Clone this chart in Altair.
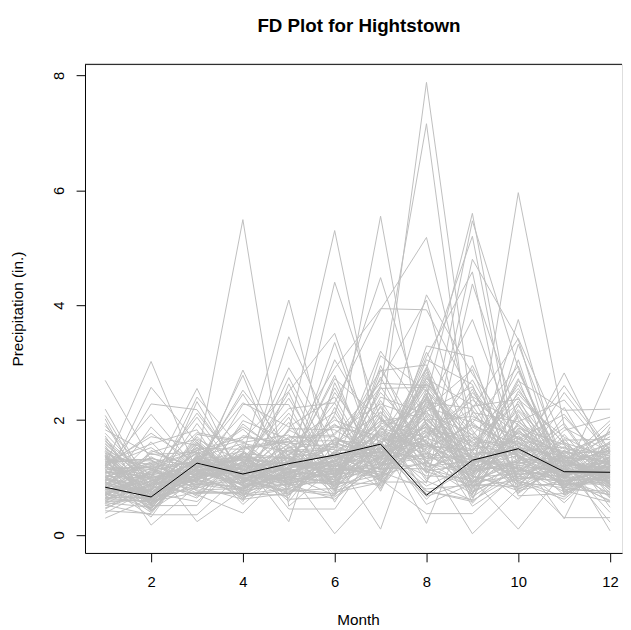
import altair as alt
import pandas as pd

months = list(range(1, 13))

# one value per year-series for each month (inches)
jan = [1.05, 0.82, 1.34, 0.66, 1.12, 0.95, 1.48, 0.74, 1.21, 0.58,
       1.63, 0.91, 1.07, 0.47, 1.29, 0.86, 1.72, 0.63, 1.15, 0.99,
       0.55, 1.38, 0.79, 1.94, 1.02, 1.20, 0.90, 2.69, 2.19, 0.71,
       1.26, 0.84, 1.55, 0.68, 1.11, 0.93, 1.42, 0.52, 1.18, 0.77,
       0.29, 1.36, 0.88, 1.60, 0.64, 1.09, 0.97, 1.83, 0.72, 1.24,
       0.59, 1.45, 0.81, 1.16, 2.02, 0.69, 1.32, 0.92, 0.45, 1.52,
       0.76, 1.01, 1.27, 0.61, 1.68, 0.87, 1.13, 0.38, 1.40, 0.94,
       1.19, 0.73, 1.58, 0.83, 0.99, 1.35, 0.56, 1.08, 1.77, 0.65,
       1.23, 0.89, 1.46, 0.70, 1.14, 0.51, 1.31, 0.96, 1.90, 0.80,
       1.04, 0.62, 1.37, 0.85, 1.17, 0.42, 1.51, 0.75, 1.28, 1.00,
       0.97, 1.43, 0.68, 1.22, 0.88, 1.66, 0.54, 1.09, 1.31, 0.79,
       1.50, 0.92, 1.18, 0.60, 1.39, 0.83, 2.08, 1.02, 0.71, 1.25]
feb = [0.72, 1.10, 0.55, 0.94, 0.41, 1.27, 0.68, 0.85, 1.52, 0.60,
       0.98, 0.47, 1.18, 0.77, 0.63, 1.36, 0.52, 0.89, 1.05, 0.71,
       1.44, 0.58, 0.93, 0.66, 1.21, 3.02, 2.57, 1.30, 0.80, 1.00,
       0.74, 1.62, 0.50, 1.08, 0.86, 0.39, 1.15, 0.35, 0.97, 1.88,
       0.64, 0.17, 1.25, 0.83, 0.57, 1.02, 0.70, 1.40, 0.46, 0.91,
       1.12, 0.62, 0.79, 2.10, 0.53, 0.99, 1.31, 0.67, 0.88, 0.44,
       1.06, 0.75, 1.58, 0.59, 0.96, 0.31, 1.19, 0.81, 0.69, 2.28,
       0.54, 1.03, 0.87, 0.61, 1.34, 0.73, 0.48, 1.14, 0.92, 0.65,
       1.71, 0.56, 0.84, 1.09, 0.42, 0.78, 1.23, 0.68, 1.00, 0.51,
       0.90, 1.47, 0.60, 0.82, 1.17, 0.37, 0.95, 0.76, 1.29, 0.63,
       0.86, 0.49, 1.13, 0.70, 1.42, 0.58, 0.95, 1.24, 0.43, 0.80,
       1.05, 0.66, 1.77, 0.89, 0.52, 1.16, 0.74, 0.99, 0.61, 1.33]
mar = [1.22, 0.95, 1.48, 1.07, 1.31, 0.84, 1.16, 1.62, 0.99, 1.38,
       0.78, 1.25, 1.04, 1.53, 1.30, 0.91, 1.19, 1.42, 0.73, 1.11,
       1.67, 0.88, 1.28, 1.02, 1.45, 1.10, 1.60, 0.97, 1.34, 2.55,
       1.14, 0.81, 1.57, 1.00, 1.21, 1.39, 0.93, 0.35, 1.26, 1.08,
       1.75, 0.86, 0.23, 1.33, 1.17, 2.05, 0.98, 1.44, 1.06, 0.70,
       1.29, 1.51, 0.89, 1.13, 2.32, 1.24, 0.76, 1.36, 1.01, 1.59,
       0.92, 1.18, 1.83, 1.05, 0.64, 1.41, 1.27, 0.96, 1.15, 2.18,
       1.09, 0.83, 1.35, 1.71, 1.03, 0.58, 1.23, 1.47, 0.94, 1.12,
       1.56, 1.00, 0.72, 1.30, 1.20, 1.94, 0.87, 1.37, 1.08, 0.51,
       1.43, 1.16, 0.98, 1.65, 0.80, 1.32, 1.13, 2.40, 0.90, 1.25,
       1.04, 1.36, 0.87, 1.61, 1.19, 0.74, 1.28, 1.50, 0.96, 1.12,
       1.78, 0.82, 1.24, 1.43, 1.01, 0.67, 1.33, 2.12, 1.07, 1.18]
apr = [0.98, 1.25, 0.74, 1.43, 1.06, 0.62, 1.31, 0.89, 1.57, 1.12,
       0.81, 1.38, 1.02, 0.69, 5.49, 1.19, 0.93, 1.66, 1.40, 0.90,
       1.27, 0.77, 1.84, 1.09, 0.58, 1.35, 1.00, 1.51, 0.85, 0.90,
       1.14, 1.73, 0.96, 2.87, 1.22, 0.71, 2.27, 1.08, 1.46, 0.88,
       1.61, 1.03, 0.79, 1.29, 2.52, 0.94, 1.17, 0.66, 1.36, 0.38,
       1.05, 1.49, 0.83, 1.21, 0.97, 2.10, 0.73, 1.32, 1.11, 0.86,
       1.93, 1.01, 0.61, 1.26, 1.44, 0.92, 1.15, 0.78, 2.78, 1.07,
       0.87, 1.34, 1.59, 0.99, 0.68, 1.24, 1.04, 1.70, 0.82, 1.18,
       0.95, 1.41, 0.75, 2.30, 1.13, 0.89, 1.28, 0.53, 1.06, 1.55,
       1.20, 0.80, 1.37, 0.97, 1.99, 0.72, 1.10, 1.47, 0.91, 1.30,
       1.16, 0.84, 1.52, 0.95, 1.33, 0.71, 1.88, 1.06, 1.27, 0.90,
       1.63, 1.00, 2.45, 0.77, 1.20, 1.42, 0.86, 1.11, 0.64, 1.38]
may = [1.18, 0.87, 1.52, 1.04, 1.36, 0.73, 1.25, 1.69, 0.95, 1.41,
       1.10, 0.82, 1.58, 1.29, 0.50, 1.80, 1.00, 2.50, 4.09, 3.45,
       0.91, 1.47, 1.13, 0.78, 1.85, 1.22, 0.99, 1.63, 1.07, 1.34,
       0.84, 1.56, 1.16, 1.20, 1.10, 0.69, 2.27, 1.39, 0.45, 1.02,
       1.74, 0.94, 1.28, 0.23, 1.50, 1.09, 2.91, 0.80, 1.33, 1.19,
       0.97, 1.62, 1.05, 2.12, 0.76, 1.44, 1.24, 0.88, 1.71, 1.01,
       1.31, 0.64, 2.63, 1.15, 0.92, 1.54, 1.08, 1.37, 0.83, 1.96,
       1.23, 0.98, 1.45, 0.71, 1.17, 2.38, 1.03, 1.60, 0.89, 1.27,
       1.48, 0.79, 1.12, 1.88, 0.96, 1.35, 0.58, 1.21, 2.05, 1.06,
       0.90, 1.40, 1.14, 0.74, 1.66, 1.02, 2.74, 0.86, 1.30, 1.11,
       1.27, 0.93, 1.67, 1.05, 2.20, 0.81, 1.39, 1.14, 0.70, 1.52,
       1.00, 1.83, 1.21, 0.88, 2.48, 1.33, 0.96, 1.58, 1.09, 0.62]
jun = [1.26, 0.93, 1.58, 1.12, 0.79, 1.44, 1.07, 1.71, 0.88, 1.35,
       1.30, 2.10, 2.90, 2.30, 1.19, 5.30, 4.40, 3.51, 1.00, 1.70,
       0.97, 1.52, 1.21, 0.68, 1.83, 1.15, 0.92, 1.64, 1.38, 1.03,
       2.48, 0.85, 1.29, 1.09, 0.02, 1.47, 0.76, 1.93, 0.45, 1.24,
       1.11, 1.67, 0.89, 2.65, 1.33, 1.00, 1.56, 0.72, 1.18, 2.06,
       1.42, 0.95, 3.35, 1.14, 0.81, 1.49, 1.27, 0.62, 1.74, 1.05,
       1.36, 2.22, 0.98, 1.61, 1.20, 0.87, 3.05, 1.10, 1.45, 0.77,
       1.23, 1.78, 0.94, 1.34, 2.78, 1.06, 0.69, 1.53, 1.16, 1.91,
       0.90, 1.39, 1.01, 2.40, 1.28, 0.83, 1.59, 1.13, 0.57, 1.43,
       1.08, 2.00, 0.96, 1.31, 0.74, 1.68, 1.22, 2.56, 1.04, 0.86,
       1.19, 1.64, 0.84, 1.37, 2.30, 1.02, 0.71, 1.55, 1.25, 1.88,
       0.93, 1.41, 2.72, 1.13, 0.80, 1.50, 1.07, 2.14, 1.29, 0.66]
jul = [1.90, 2.60, 1.43, 1.18, 1.76, 0.94, 2.05, 1.31, 1.62, 1.09,
       5.55, 4.48, 3.94, 3.92, 1.52, 1.40, 2.00, 1.20, 1.85, 1.27,
       1.50, 2.70, 1.00, 1.67, 1.36, 2.22, 0.88, 1.58, 1.14, 1.95,
       1.41, 2.34, 1.03, 1.72, 0.90, 1.49, 2.86, 1.22, 1.60, 0.97,
       1.81, 1.33, 2.15, 1.07, 0.10, 1.65, 1.25, 3.12, 1.46, 0.82,
       1.98, 1.38, 1.12, 2.48, 1.55, 0.93, 1.79, 1.29, 2.64, 1.16,
       1.45, 0.76, 2.08, 1.35, 3.20, 1.04, 1.70, 1.24, 1.91, 0.99,
       1.57, 2.28, 1.19, 1.39, 0.85, 1.83, 2.95, 1.30, 1.06, 1.63,
       2.40, 1.21, 1.50, 0.95, 1.74, 1.34, 2.12, 1.10, 1.87, 1.42,
       1.01, 1.68, 2.55, 1.26, 0.91, 1.47, 1.99, 1.15, 2.75, 1.37,
       1.62, 1.13, 2.25, 1.44, 0.92, 1.86, 1.28, 2.58, 1.05, 1.73,
       1.36, 0.80, 2.02, 1.52, 1.19, 2.88, 1.41, 0.97, 1.77, 1.23]
aug = [7.88, 7.16, 1.64, 2.40, 1.50, 2.90, 1.20, 3.10, 0.90, 2.20,
       1.10, 1.90, 3.92, 5.18, 1.78, 2.55, 1.33, 2.08, 1.46, 2.72,
       4.18, 4.09, 3.29, 1.57, 2.31, 0.98, 1.86, 2.64, 1.25, 1.69,
       2.45, 1.12, 2.02, 0.76, 1.81, 1.30, 2.96, 1.40, 2.16, 0.37,
       1.53, 2.83, 1.07, 1.95, 2.36, 0.20, 1.62, 2.50, 0.85, 1.74,
       2.12, 1.37, 3.05, 1.59, 0.62, 2.27, 1.48, 1.90, 2.60, 1.15,
       1.71, 2.42, 0.94, 1.83, 2.05, 1.27, 2.88, 1.56, 0.71, 2.19,
       1.44, 1.99, 2.68, 1.03, 1.76, 2.34, 1.21, 3.18, 1.60, 0.53,
       2.10, 1.35, 1.88, 2.47, 1.18, 2.78, 1.52, 0.80, 2.24, 1.66,
       1.96, 1.09, 2.57, 1.42, 2.00, 0.67, 1.79, 2.30, 1.28, 2.62,
       1.87, 2.38, 1.26, 2.05, 0.92, 1.64, 2.74, 1.40, 2.15, 1.11,
       1.93, 2.52, 1.33, 0.76, 2.22, 1.58, 2.92, 1.74, 1.19, 2.40]
sep = [2.10, 1.20, 1.00, 5.60, 5.47, 5.20, 4.80, 4.58, 4.37, 3.75,
       0.86, 1.54, 2.40, 1.90, 1.12, 0.73, 1.68, 1.31, 0.95, 2.26,
       2.80, 1.10, 3.10, 1.20, 2.20, 1.42, 0.64, 1.79, 1.05, 1.36,
       0.91, 2.48, 1.17, 0.58, 1.63, 0.02, 1.27, 2.95, 0.82, 0.37,
       1.49, 1.02, 1.88, 0.69, 1.33, 2.13, 0.97, 1.58, 1.22, 0.50,
       1.74, 1.08, 2.62, 0.88, 1.40, 0.76, 1.95, 1.14, 1.51, 0.93,
       2.35, 1.25, 0.60, 1.70, 1.03, 2.02, 0.84, 1.46, 1.19, 2.88,
       0.79, 1.37, 1.60, 0.98, 2.18, 1.11, 0.71, 1.83, 1.29, 0.90,
       1.55, 2.54, 1.07, 0.66, 1.44, 1.21, 1.92, 0.87, 1.35, 2.70,
       1.00, 1.64, 0.55, 1.26, 2.06, 0.94, 1.48, 1.16, 0.81, 1.73,
       1.32, 0.89, 1.76, 1.10, 2.24, 0.74, 1.45, 1.02, 2.58, 1.23,
       0.92, 1.67, 1.38, 0.61, 1.96, 1.15, 0.85, 2.41, 1.29, 1.06]
octo = [1.36, 1.72, 5.96, 1.30, 2.90, 1.10, 3.40, 0.80, 2.00, 1.60,
        1.18, 2.45, 0.95, 1.57, 1.24, 1.93, 0.86, 1.41, 2.25, 1.05,
        1.66, 1.29, 0.74, 3.75, 3.42, 1.48, 2.10, 1.12, 1.82, 0.99,
        1.30, 1.53, 2.68, 1.20, 0.91, 0.80, 1.77, 1.34, 2.33, 1.08,
        1.62, 0.83, 1.45, 3.32, 1.15, 1.97, 0.10, 1.39, 1.71, 1.02,
        2.55, 1.27, 0.68, 1.86, 1.44, 1.11, 2.94, 1.59, 0.93, 1.33,
        1.75, 2.18, 1.06, 1.50, 0.77, 1.69, 1.22, 2.40, 1.38, 0.89,
        1.96, 1.14, 1.63, 3.05, 1.00, 1.47, 1.85, 0.72, 1.26, 2.06,
        1.40, 0.97, 1.78, 1.21, 2.62, 1.09, 1.55, 0.84, 1.90, 1.32,
        1.07, 2.28, 1.43, 0.62, 1.68, 1.25, 2.85, 1.16, 1.52, 0.98,
        1.21, 1.80, 0.92, 1.54, 2.36, 1.13, 0.79, 1.67, 1.35, 2.72,
        1.02, 1.46, 0.87, 2.15, 1.28, 1.60, 0.95, 1.92, 1.17, 2.50]
nov = [1.12, 0.87, 1.90, 1.34, 0.96, 1.21, 0.74, 1.48, 1.05, 1.27,
       0.91, 1.59, 1.16, 0.80, 1.39, 1.02, 1.68, 0.69, 1.24, 1.10,
       1.45, 0.85, 1.31, 1.00, 1.60, 1.08, 0.77, 1.53, 1.19, 0.94,
       2.82, 1.00, 2.17, 1.36, 0.62, 1.14, 1.42, 0.89, 1.29, 0.30,
       1.06, 1.75, 0.98, 1.23, 0.83, 2.35, 1.11, 0.28, 1.40, 0.93,
       1.30, 1.04, 0.72, 1.57, 1.18, 2.05, 0.88, 1.26, 1.47, 1.01,
       0.79, 1.35, 1.13, 2.60, 0.95, 1.22, 1.65, 0.84, 1.09, 1.38,
       1.50, 0.99, 1.25, 0.70, 1.82, 1.15, 0.90, 1.33, 2.22, 1.07,
       0.86, 1.43, 1.17, 0.56, 1.28, 1.62, 0.97, 1.20, 1.03, 1.94,
       1.32, 0.81, 1.10, 1.46, 0.92, 2.48, 1.19, 0.75, 1.37, 1.05,
       1.09, 1.41, 0.82, 1.26, 1.70, 0.95, 1.18, 2.10, 1.02, 0.73,
       1.36, 1.53, 0.88, 1.22, 1.87, 1.00, 0.66, 1.31, 1.14, 1.58]
dec = [1.08, 1.25, 0.82, 1.41, 0.95, 1.17, 1.56, 0.73, 1.30, 1.02,
       1.44, 0.88, 1.19, 1.63, 0.97, 1.33, 0.66, 1.12, 1.48, 0.91,
       1.26, 1.05, 1.71, 0.84, 1.37, 1.14, 0.57, 1.22, 1.52, 1.00,
       1.20, 2.82, 2.19, 0.79, 1.29, 1.06, 1.45, 0.92, 1.35, 0.30,
       1.11, 0.86, 1.60, 1.24, 0.70, 1.40, 1.01, 1.88, 0.07, 1.16,
       0.94, 1.31, 1.09, 0.48, 1.53, 1.21, 0.89, 1.99, 1.13, 1.36,
       0.76, 1.27, 1.04, 1.47, 0.60, 1.18, 1.66, 0.98, 1.34, 0.83,
       1.42, 1.07, 0.39, 1.23, 2.05, 0.93, 1.15, 1.58, 0.87, 1.28,
       1.03, 1.76, 0.71, 1.32, 1.10, 0.96, 1.50, 0.22, 1.19, 0.85,
       1.38, 1.00, 1.81, 0.78, 1.26, 1.45, 0.90, 1.14, 0.64, 1.23,
       1.17, 0.88, 1.49, 1.05, 1.28, 0.69, 1.62, 1.11, 0.94, 1.37,
       1.79, 0.81, 1.21, 1.02, 1.44, 0.58, 1.30, 0.97, 1.93, 1.13]

# highlighted (black) curve
highlight = [0.83, 0.66, 1.25, 1.06, 1.24, 1.39, 1.58, 0.69, 1.30, 1.50, 1.10, 1.09]

x_ticks = [2, 4, 6, 8, 10, 12]
y_ticks = [0, 2, 4, 6, 8]
title_text = "FD Plot for Hightstown"

cols = [jan, feb, mar, apr, may, jun, jul, aug, sep, octo, nov, dec]
n = len(jan)
assert all(len(c) == n for c in cols), [len(c) for c in cols]

rows = []
for i in range(n):
    for m, c in zip(months, cols):
        rows.append({"series": i, "month": m, "precip": c[i]})
df = pd.DataFrame(rows)
hl = pd.DataFrame({"month": months, "precip": highlight})

FONT = "Liberation Sans"
W, H = 544, 495

xscale = alt.Scale(domain=[0.56, 12.26], nice=False, zero=False)
yscale = alt.Scale(domain=[-0.315, 8.195], nice=False, zero=False)

xaxis = alt.Axis(values=x_ticks, format="d", title="Month", grid=False,
                 domain=True, domainColor="black", domainWidth=1,
                 ticks=True, tickColor="black", tickSize=9, tickWidth=1,
                 labelFont=FONT, labelFontSize=15, labelColor="black",
                 labelPadding=13, labelFlush=False, labelOverlap=False,
                 titleFont=FONT, titleFontSize=15.5, titleFontWeight="normal",
                 titleColor="black", titleX=276.5, titleY=72.5,
                 titleAlign="center", titleBaseline="alphabetic")
yaxis = alt.Axis(values=y_ticks, format="d", title="Precipitation (in.)", grid=False,
                 domain=True, domainColor="black", domainWidth=1,
                 ticks=True, tickColor="black", tickSize=9, tickWidth=1,
                 labelFont=FONT, labelFontSize=15, labelColor="black",
                 labelAngle=270, labelAlign="center", labelBaseline="alphabetic",
                 labelPadding=13, labelFlush=False, labelOverlap=False,
                 titleFont=FONT, titleFontSize=15.5, titleFontWeight="normal",
                 titleColor="black", titleAngle=270, titleX=-63.5, titleY=247.5,
                 titleAlign="center", titleBaseline="alphabetic")

gray = alt.Chart(df).mark_line(color="#BEBEBE", strokeWidth=1).encode(
    x=alt.X("month:Q", scale=xscale, axis=xaxis),
    y=alt.Y("precip:Q", scale=yscale, axis=yaxis),
    detail="series:N",
    order="month:Q",
)
black = alt.Chart(hl).mark_line(color="black", strokeWidth=1).encode(
    x=alt.X("month:Q", scale=xscale, axis=xaxis),
    y=alt.Y("precip:Q", scale=yscale, axis=yaxis),
)
top_frame = alt.Chart(pd.DataFrame({"k": [0]})).mark_rule(color="black", strokeWidth=1).encode(
    x=alt.value(0), x2=alt.value(W), y=alt.value(0)
)
title_mark = alt.Chart(pd.DataFrame({"t": [title_text]})).mark_text(
    font=FONT, fontSize=19, fontWeight="bold", color="black",
    align="center", baseline="alphabetic"
).encode(x=alt.value(277.5), y=alt.value(-32.5), text="t:N")

chart = alt.layer(gray, black, top_frame, title_mark).properties(
    width=W, height=H,
    padding={"left": 78, "top": 53, "right": 1, "bottom": 74},
    autosize=alt.AutoSizeParams(type="none"),
).configure_view(stroke=None).configure(background="white")

chart.save("out.html", embed_options={"renderer": "svg", "actions": False})
